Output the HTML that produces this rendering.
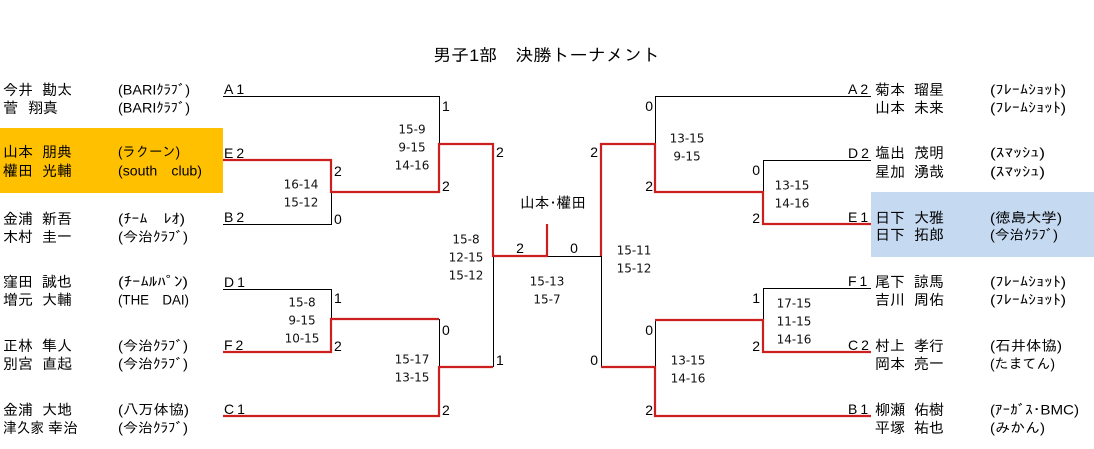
<!DOCTYPE html>
<html><head><meta charset="utf-8"><style>
html,body{margin:0;padding:0;background:#fff;}
svg{display:block;}
.n{font-family:"Liberation Sans","IPAGothic","Noto Sans CJK JP",sans-serif;font-size:15px;fill:#000;}
.t{font-family:"Liberation Sans","IPAGothic","Noto Sans CJK JP",sans-serif;font-size:14px;fill:#000;}
.s{font-family:"DejaVu Sans","Liberation Sans",sans-serif;font-size:12px;fill:#111;text-anchor:middle;}
.d{font-family:"Liberation Sans",sans-serif;font-size:14px;fill:#000;}
.de{font-family:"Liberation Sans",sans-serif;font-size:14px;fill:#000;text-anchor:end;}
.dm{font-family:"Liberation Sans",sans-serif;font-size:14px;fill:#000;text-anchor:middle;}
.l{font-family:"Liberation Sans",sans-serif;font-size:14px;fill:#000;letter-spacing:3px;}
.k{fill:none;stroke:#000;stroke-width:1;}
.r{fill:none;stroke:#cc1f1f;stroke-width:2.2;}
</style></head><body>
<svg width="1094" height="449" viewBox="0 0 1094 449" xmlns="http://www.w3.org/2000/svg">
<rect x="0" y="128" width="223" height="65" fill="#FFC000"/>
<rect x="871" y="192" width="223" height="65" fill="#C5D9F1"/>

<text x="433" y="61" font-family="Liberation Sans, IPAGothic, Noto Sans CJK JP, sans-serif" font-size="17" textLength="227" lengthAdjust="spacingAndGlyphs">男子1部　決勝トーナメント</text>

<!-- black lines -->
<path class="k" d="M223,96.5 H439.5 V143"/>
<path class="k" d="M223,224.5 H331.5 V192"/>
<path class="k" d="M223,289.5 H331.5 V319"/>
<path class="k" d="M439.5,319 V367"/>
<path class="k" d="M493.5,256 V367"/>
<path class="k" d="M547,256.5 H601.5 V367"/>
<path class="k" d="M871,96.5 H655.5 V144"/>
<path class="k" d="M871,160.5 H763.5 V192"/>
<path class="k" d="M871,288.5 H763.5 V320"/>
<path class="k" d="M655.5,320 V367"/>

<!-- red lines -->
<path class="r" d="M223,160 H331 V192 H439 V144 H493 V256 H547 V224"/>
<path class="r" d="M223,352 H331 V319 H439"/>
<path class="r" d="M223,416 H439 V367 H493"/>
<path class="r" d="M601,256 V144 H655 V192 H763 V224 H871"/>
<path class="r" d="M601,367 H655 V416 H871"/>
<path class="r" d="M655,320 H763 V352 H871"/>

<!-- bracket labels -->
<text class="l" x="224" y="94">A1</text>
<text class="l" x="224" y="158">E2</text>
<text class="l" x="224" y="222">B2</text>
<text class="l" x="224" y="287">D1</text>
<text class="l" x="224" y="350">F2</text>
<text class="l" x="224" y="414">C1</text>
<text class="l" x="848" y="94">A2</text>
<text class="l" x="848" y="158">D2</text>
<text class="l" x="848" y="222">E1</text>
<text class="l" x="848" y="286">F1</text>
<text class="l" x="848" y="350">C2</text>
<text class="l" x="848" y="414">B1</text>

<!-- small game counts -->
<text class="d" x="442" y="111">1</text>
<text class="d" x="442" y="191">2</text>
<text class="d" x="334" y="176">2</text>
<text class="d" x="334" y="224">0</text>
<text class="d" x="334" y="303">1</text>
<text class="d" x="334" y="351">2</text>
<text class="d" x="442" y="335">0</text>
<text class="d" x="442" y="415">2</text>
<text class="d" x="496" y="157">2</text>
<text class="d" x="496" y="365">1</text>
<text class="dm" x="520" y="253">2</text>
<text class="dm" x="574" y="253">0</text>
<text class="de" x="653" y="111">0</text>
<text class="de" x="653" y="191">2</text>
<text class="de" x="760" y="175">0</text>
<text class="de" x="760" y="223">2</text>
<text class="de" x="598" y="157">2</text>
<text class="de" x="598" y="365">0</text>
<text class="de" x="760" y="303">1</text>
<text class="de" x="760" y="351">2</text>
<text class="de" x="653" y="335">0</text>
<text class="de" x="653" y="415">2</text>

<!-- center label -->
<text x="520" y="208" class="n" textLength="66" lengthAdjust="spacingAndGlyphs">山本･權田</text>

<!-- scores -->
<text class="s" x="412" y="133.5">15-9</text>
<text class="s" x="412" y="151.5">9-15</text>
<text class="s" x="412" y="169.5">14-16</text>
<text class="s" x="301" y="188.5">16-14</text>
<text class="s" x="301" y="206.5">15-12</text>
<text class="s" x="302" y="306.5">15-8</text>
<text class="s" x="302" y="324.5">9-15</text>
<text class="s" x="302" y="342.5">10-15</text>
<text class="s" x="412" y="363.5">15-17</text>
<text class="s" x="412" y="381.5">13-15</text>
<text class="s" x="466" y="243.5">15-8</text>
<text class="s" x="466" y="261.5">12-15</text>
<text class="s" x="466" y="279.5">15-12</text>
<text class="s" x="547" y="285.5">15-13</text>
<text class="s" x="547" y="303.5">15-7</text>
<text class="s" x="634" y="254.5">15-11</text>
<text class="s" x="634" y="272.5">15-12</text>
<text class="s" x="687" y="142.5">13-15</text>
<text class="s" x="687" y="160.5">9-15</text>
<text class="s" x="792" y="189.5">13-15</text>
<text class="s" x="792" y="207.5">14-16</text>
<text class="s" x="794" y="307.5">17-15</text>
<text class="s" x="794" y="325.5">11-15</text>
<text class="s" x="794" y="343.5">14-16</text>
<text class="s" x="688" y="364.5">13-15</text>
<text class="s" x="688" y="382.5">14-16</text>

<!-- left names -->
<text class="n" x="3" y="95">今井　<tspan x="42">勘太</tspan></text>
<text class="n" x="3" y="113">菅　<tspan x="28">翔真</tspan></text>
<text class="n" x="3" y="157">山本　<tspan x="42">朋典</tspan></text>
<text class="n" x="3" y="176">權田　<tspan x="42">光輔</tspan></text>
<text class="n" x="3" y="224">金浦　<tspan x="42">新吾</tspan></text>
<text class="n" x="3" y="242">木村　<tspan x="42">圭一</tspan></text>
<text class="n" x="3" y="287">窪田　<tspan x="42">誠也</tspan></text>
<text class="n" x="3" y="305">増元　<tspan x="42">大輔</tspan></text>
<text class="n" x="3" y="351">正林　<tspan x="42">隼人</tspan></text>
<text class="n" x="3" y="369">別宮　<tspan x="42">直起</tspan></text>
<text class="n" x="3" y="415">金浦　<tspan x="42">大地</tspan></text>
<text class="n" x="3" y="433" textLength="41" lengthAdjust="spacingAndGlyphs">津久家</text>
<text class="n" x="48" y="433">幸治</text>

<!-- left teams -->
<text class="t" x="118" y="94.5" textLength="72" lengthAdjust="spacingAndGlyphs">(BARIｸﾗﾌﾞ)</text>
<text class="t" x="118" y="112.5" textLength="72" lengthAdjust="spacingAndGlyphs">(BARIｸﾗﾌﾞ)</text>
<text class="t" x="118" y="156.5" textLength="62" lengthAdjust="spacingAndGlyphs">(ラクーン)</text>
<text class="t" x="118" y="175.5" textLength="84" lengthAdjust="spacingAndGlyphs">(south　club)</text>
<text class="t" x="118" y="223.5" textLength="67" lengthAdjust="spacingAndGlyphs">(ﾁｰﾑ　ﾚｵ)</text>
<text class="t" x="118" y="241.5" textLength="70" lengthAdjust="spacingAndGlyphs">(今治ｸﾗﾌﾞ)</text>
<text class="t" x="118" y="286.5" textLength="70" lengthAdjust="spacingAndGlyphs">(ﾁｰﾑﾙﾊﾟﾝ)</text>
<text class="t" x="118" y="304.5" textLength="71" lengthAdjust="spacingAndGlyphs">(THE　DAI)</text>
<text class="t" x="118" y="350.5" textLength="70" lengthAdjust="spacingAndGlyphs">(今治ｸﾗﾌﾞ)</text>
<text class="t" x="118" y="368.5" textLength="70" lengthAdjust="spacingAndGlyphs">(今治ｸﾗﾌﾞ)</text>
<text class="t" x="118" y="414.5" textLength="71" lengthAdjust="spacingAndGlyphs">(八万体協)</text>
<text class="t" x="118" y="432.5" textLength="70" lengthAdjust="spacingAndGlyphs">(今治ｸﾗﾌﾞ)</text>

<!-- right names -->
<text class="n" x="875" y="95">菊本　<tspan x="914">瑠星</tspan></text>
<text class="n" x="875" y="113">山本　<tspan x="914">未来</tspan></text>
<text class="n" x="875" y="158">塩出　<tspan x="914">茂明</tspan></text>
<text class="n" x="875" y="177">星加　<tspan x="914">湧哉</tspan></text>
<text class="n" x="875" y="223">日下　<tspan x="914">大雅</tspan></text>
<text class="n" x="875" y="240">日下　<tspan x="914">拓郎</tspan></text>
<text class="n" x="875" y="287">尾下　<tspan x="914">諒馬</tspan></text>
<text class="n" x="875" y="305">吉川　<tspan x="914">周佑</tspan></text>
<text class="n" x="875" y="351">村上　<tspan x="914">孝行</tspan></text>
<text class="n" x="875" y="369">岡本　<tspan x="914">亮一</tspan></text>
<text class="n" x="875" y="415">柳瀬　<tspan x="914">佑樹</tspan></text>
<text class="n" x="875" y="433">平塚　<tspan x="914">祐也</tspan></text>

<!-- right teams -->
<text class="t" x="990" y="94.5" textLength="76" lengthAdjust="spacingAndGlyphs">(ﾌﾚｰﾑｼｮｯﾄ)</text>
<text class="t" x="990" y="112.5" textLength="76" lengthAdjust="spacingAndGlyphs">(ﾌﾚｰﾑｼｮｯﾄ)</text>
<text class="t" x="990" y="157.5" textLength="55" lengthAdjust="spacingAndGlyphs">(ｽﾏｯｼｭ)</text>
<text class="t" x="990" y="176.5" textLength="55" lengthAdjust="spacingAndGlyphs">(ｽﾏｯｼｭ)</text>
<text class="t" x="990" y="222.5" textLength="72" lengthAdjust="spacingAndGlyphs">(徳島大学)</text>
<text class="t" x="990" y="239.5" textLength="68" lengthAdjust="spacingAndGlyphs">(今治ｸﾗﾌﾞ)</text>
<text class="t" x="990" y="286.5" textLength="76" lengthAdjust="spacingAndGlyphs">(ﾌﾚｰﾑｼｮｯﾄ)</text>
<text class="t" x="990" y="304.5" textLength="76" lengthAdjust="spacingAndGlyphs">(ﾌﾚｰﾑｼｮｯﾄ)</text>
<text class="t" x="990" y="350.5" textLength="72" lengthAdjust="spacingAndGlyphs">(石井体協)</text>
<text class="t" x="990" y="368.5" textLength="65" lengthAdjust="spacingAndGlyphs">(たまてん)</text>
<text class="t" x="990" y="414.5" textLength="89" lengthAdjust="spacingAndGlyphs">(ｱｰｶﾞｽ･BMC)</text>
<text class="t" x="990" y="432.5" textLength="55" lengthAdjust="spacingAndGlyphs">(みかん)</text>
</svg>
</body></html>
